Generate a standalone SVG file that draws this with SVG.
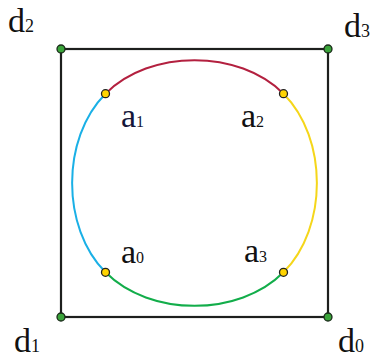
<svg xmlns="http://www.w3.org/2000/svg" width="377" height="358" viewBox="0 0 377 358">
<style>
text{font-family:"Liberation Serif","Times New Roman",serif}
.lbl{font-size:34px;fill:#111}
.sub{font-size:18px}
.asub{font-size:16px}
.arc{fill:none;stroke-width:2}
.dpt{fill:#3aa43a;stroke:#1a2a1a;stroke-width:1.3}
.apt{fill:#ffd400;stroke:#222;stroke-width:1.3}
</style>
<rect width="377" height="358" fill="#fff"/>
<g id="connectors">
<rect x="61" y="49" width="267" height="268" fill="none" stroke="#1d1f1d" stroke-width="2.2"/>
<path class="arc" stroke="#b3203f" d="M105.5,93.67 C150,49 239,49 283.5,93.67"/>
<path class="arc" stroke="#f5d61a" d="M283.5,93.67 C328,138.33 328,227.67 283.5,272.33"/>
<path class="arc" stroke="#12ad4a" d="M283.5,272.33 C239,317 150,317 105.5,272.33"/>
<path class="arc" stroke="#1ab0e6" d="M105.5,272.33 C61,227.67 61,138.33 105.5,93.67"/>
</g>
<g id="d2"><circle class="dpt" cx="61" cy="49" r="4"/><text class="lbl" x="8" y="32" font-family="Liberation Serif, serif">d<tspan class="sub">2</tspan></text></g>
<g id="d3"><circle class="dpt" cx="328" cy="49" r="4"/><text class="lbl" x="344" y="37" font-family="Liberation Serif, serif">d<tspan class="sub">3</tspan></text></g>
<g id="d1"><circle class="dpt" cx="61" cy="317" r="4"/><text class="lbl" x="14" y="352" font-family="Liberation Serif, serif">d<tspan class="sub">1</tspan></text></g>
<g id="d0"><circle class="dpt" cx="328" cy="317" r="4"/><text class="lbl" x="338" y="352" font-family="Liberation Serif, serif">d<tspan class="sub">0</tspan></text></g>
<g id="a1"><circle class="apt" cx="105.5" cy="93.67" r="4"/><text class="lbl" x="121" y="127" style="fill:#14163a" font-family="Liberation Serif, serif">a<tspan class="asub">1</tspan></text></g>
<g id="a2"><circle class="apt" cx="283.5" cy="93.67" r="4"/><text class="lbl" x="241" y="127" font-family="Liberation Serif, serif">a<tspan class="asub">2</tspan></text></g>
<g id="a0"><circle class="apt" cx="105.5" cy="272.33" r="4"/><text class="lbl" x="121" y="263" font-family="Liberation Serif, serif">a<tspan class="asub">0</tspan></text></g>
<g id="a3"><circle class="apt" cx="283.5" cy="272.33" r="4"/><text class="lbl" x="244" y="262" font-family="Liberation Serif, serif">a<tspan class="asub">3</tspan></text></g>
</svg>
